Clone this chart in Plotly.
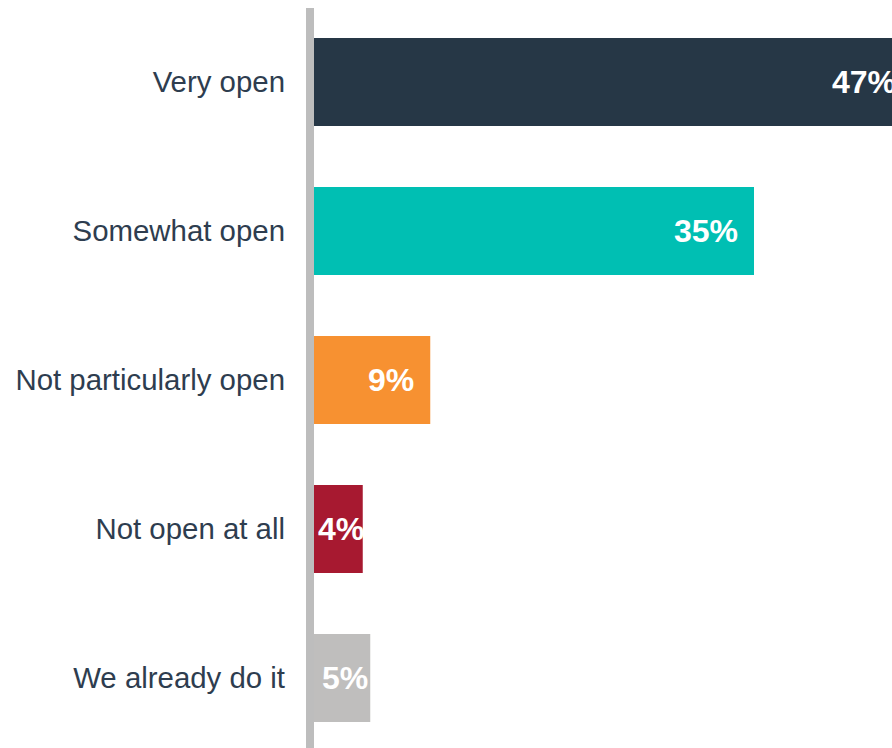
import plotly.graph_objects as go

categories = ["Very open", "Somewhat open", "Not particularly open", "Not open at all", "We already do it"]
values = [47.8, 35.2, 9.3, 3.9, 4.5]
labels = ["47%", "35%", "9%", "4%", "5%"]
colors = ["#263746", "#00bfb3", "#f79131", "#a71930", "#bfbebd"]

W, H = 892, 748
ML, MR, MT, MB = 314, 0, 8, 0
PX_PER_UNIT = 12.5
plot_w = W - ML - MR
xmax = plot_w / PX_PER_UNIT

band = 149.0
plot_h = H - MT - MB
ytop = -0.5 + 0.5 / band
ybot = ytop + plot_h / band

label_font = dict(family="Liberation Sans, Arial", size=32, color="white", weight="bold")

fig = go.Figure()
fig.add_trace(go.Bar(
    y=categories, x=values, orientation="h",
    marker=dict(color=colors, line=dict(width=0)),
    width=0.59, hoverinfo="skip", showlegend=False,
))

annotations = []
for cat, v, lab in zip(categories, values, labels):
    if v >= 8:
        annotations.append(dict(x=v / xmax, xref="paper", y=cat, yref="y", text=lab,
                                xanchor="right", xshift=-14, showarrow=False, font=label_font))
    else:
        annotations.append(dict(x=(v / 2) / xmax, xref="paper", y=cat, yref="y", text=lab,
                                xanchor="center", xshift=3, showarrow=False, font=label_font))

fig.update_layout(
    width=W, height=H,
    margin=dict(l=ML, r=MR, t=MT, b=MB, pad=0),
    paper_bgcolor="white", plot_bgcolor="white",
    annotations=annotations,
    shapes=[dict(type="rect", xref="paper", yref="paper", x0=-8 / plot_w, x1=0, y0=0, y1=1,
                 fillcolor="#bdbdbd", line=dict(width=0), layer="above")],
    xaxis=dict(range=[0, xmax], visible=False, fixedrange=True),
    yaxis=dict(range=[ybot, ytop], showgrid=False, zeroline=False, showline=False,
               ticks="", ticklabelstandoff=28,
               tickfont=dict(family="Liberation Sans, Arial", size=29.4, color="#2e3d4f")),
)

fig.write_html("out.html")
